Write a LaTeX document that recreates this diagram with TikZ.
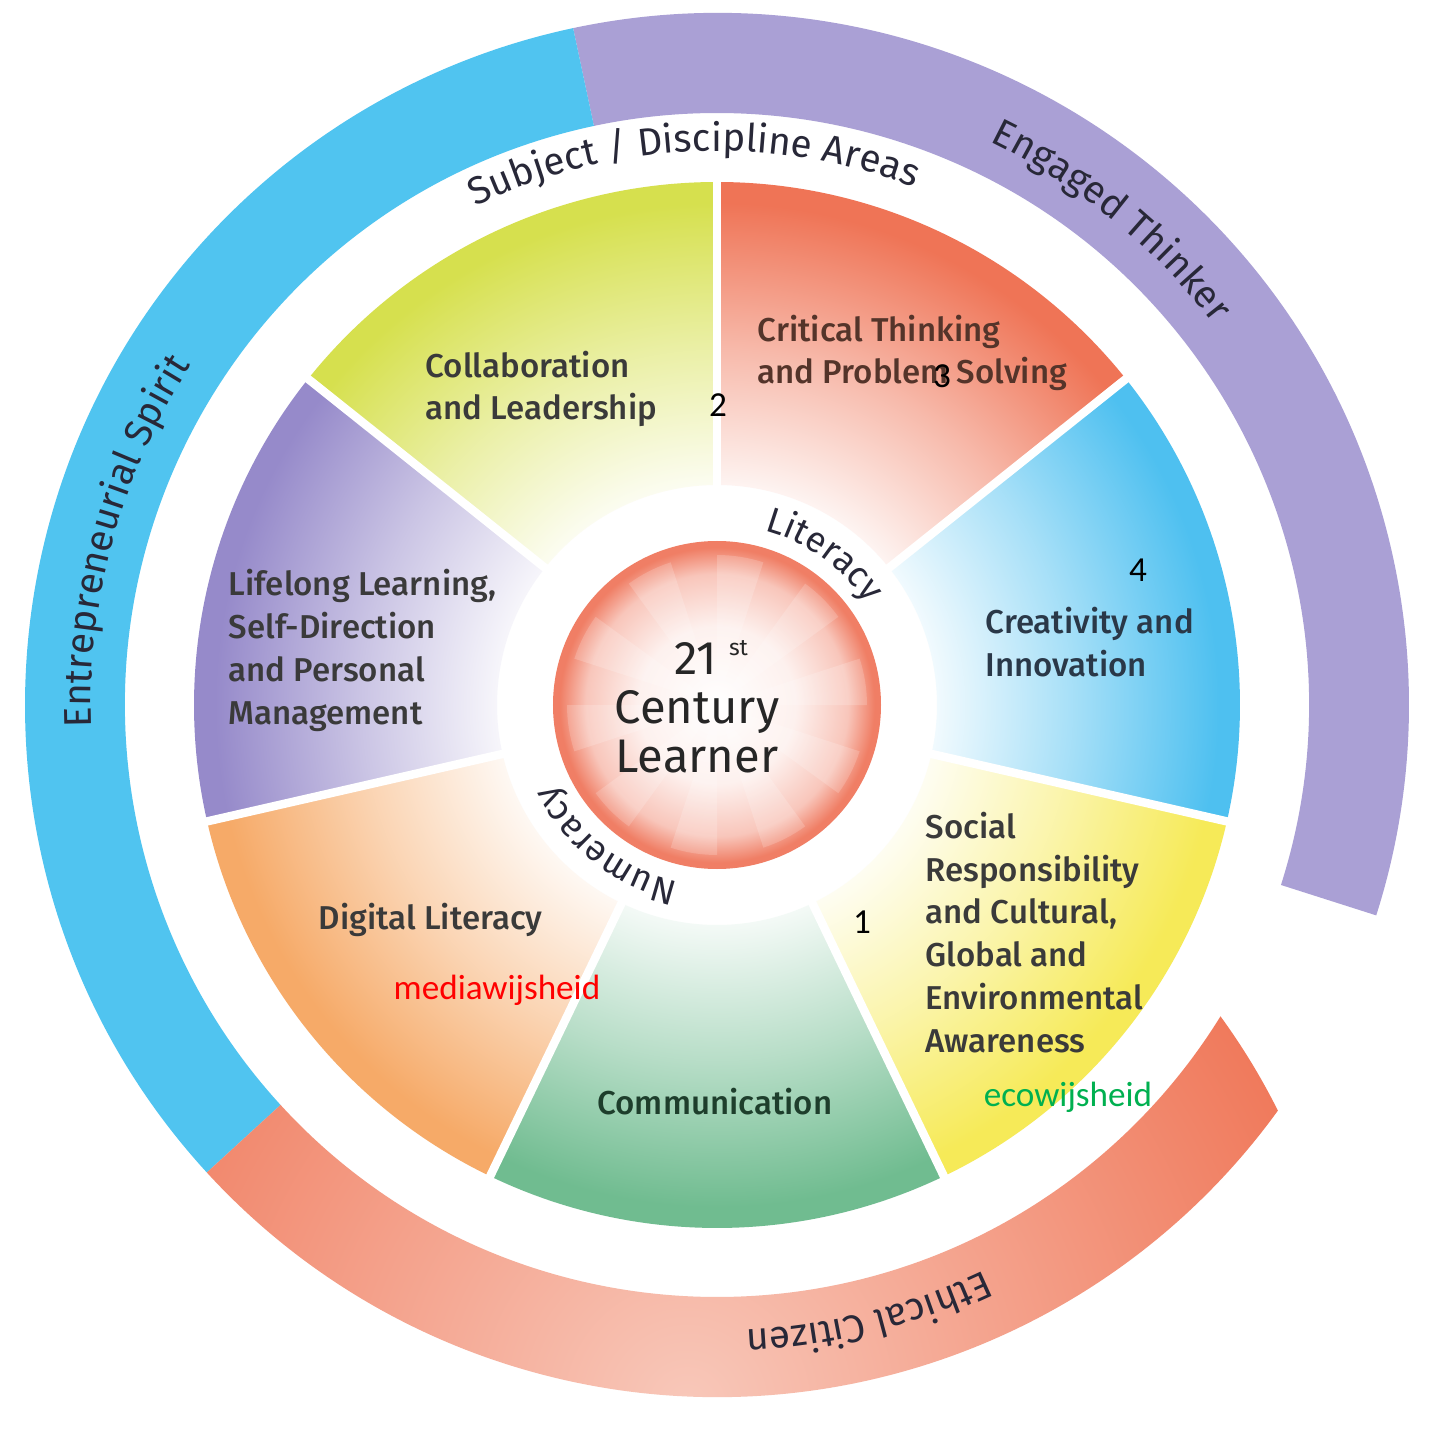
\documentclass[tikz,border=0pt]{standalone}
\usepackage{fontspec}
\setmainfont{Fira Sans}
\newfontfamily\wedgefont{Fira Sans Medium}
\newfontfamily\notefont{Carlito}
\usetikzlibrary{decorations.text}

\definecolor{ringblue}{RGB}{80,196,240}
\definecolor{ringpurple}{RGB}{170,160,213}
\definecolor{ringred}{RGB}{240,122,92}
\definecolor{ringpink}{RGB}{248,200,186}
\definecolor{collabcol}{RGB}{214,224,78}
\definecolor{criticalcol}{RGB}{239,116,86}
\definecolor{creativecol}{RGB}{78,192,240}
\definecolor{socialcol}{RGB}{246,234,88}
\definecolor{commcol}{RGB}{112,188,144}
\definecolor{digitalcol}{RGB}{246,170,104}
\definecolor{lifelongcol}{RGB}{150,138,202}
\definecolor{learnerred}{RGB}{238,112,84}
\definecolor{textgray}{RGB}{58,58,58}
\definecolor{curvegray}{RGB}{40,40,56}
\definecolor{ecogreen}{RGB}{0,176,80}

% radius R of the shaded circle is 25bp
\colorlet{wedgecol}{collabcol}
\pgfdeclareradialshading[wedgecol]{wedgeshade}{\pgfpoint{0bp}{0bp}}{%
  color(0bp)=(white); color(10.5bp)=(wedgecol!8!white);
  color(17bp)=(wedgecol!50!white); color(24bp)=(wedgecol); color(50bp)=(wedgecol)}
\pgfdeclareradialshading{learnershade}{\pgfpoint{0bp}{0bp}}{%
  color(0bp)=(white); color(12bp)=(learnerred!10!white);
  color(20bp)=(learnerred!40!white); color(24bp)=(learnerred!90!white); color(50bp)=(learnerred)}

\newcommand{\ringfont}{\color{curvegray}\fontsize{11}{13}\selectfont}
\newcommand{\innerfont}{\color{curvegray}\fontsize{10.2}{12}\selectfont}

\tikzset{
  wedgetext/.style={font=\wedgefont\fontsize{9.4}{12.2}\selectfont, text=textgray, align=left, anchor=west, inner sep=0pt},
  notetext/.style={font=\notefont\fontsize{10}{12}\selectfont, inner sep=0pt},
  ringlabel/.style={decorate, decoration={text along path, text align=center}},
}

\begin{document}
\begin{tikzpicture}
\useasboundingbox (-7.17,-7.27) rectangle (7.14,7.05);
\fill[white] (-7.17,-7.27) rectangle (7.14,7.05);

% outer ring
\fill[ringpurple] (102:6.92) arc[start angle=102, end angle=-17.7, radius=6.92]
  -- (-17.7:5.92) arc[start angle=-17.7, end angle=102, radius=5.92] -- cycle;
\fill[ringblue] (222.5:6.92) arc[start angle=222.5, end angle=102, radius=6.92]
  -- (102:5.92) arc[start angle=102, end angle=222.5, radius=5.92] -- cycle;
\begin{scope}
  \clip (-17.7:6.92) arc[start angle=-17.7, end angle=-137.5, radius=6.92]
    -- (-137.5:5.92) arc[start angle=-137.5, end angle=-17.7, radius=5.92] -- cycle;
  \shade[inner color=ringpink, outer color=ringred] (-0.3,-7.0) circle (6.6);
\end{scope}

% seven wedges
\foreach \a/\c in {90/collabcol, 141.43/lifelongcol, 192.86/digitalcol, 244.29/commcol,
                   295.71/socialcol, 347.14/creativecol, 38.57/criticalcol}{
  \pgfmathsetmacro{\b}{\a+51.43}
  \begin{scope}
    \clip (\a:2.2) -- (\a:5.23) arc[start angle=\a, end angle=\b, radius=5.23]
      -- (\b:2.2) arc[start angle=\b, end angle=\a, radius=2.2] -- cycle;
    \colorlet{wedgecol}{\c}
    \shade[shading=wedgeshade] (0,0) circle (5.23);
  \end{scope}
}
\foreach \a in {90, 141.43, 192.86, 244.29, 295.71, 347.14, 38.57}
  \draw[white, line width=2.4pt] (\a:2.0) -- (\a:5.4);

% centre
\shade[shading=learnershade] (0,0) circle (1.64);
\foreach \a in {0,36,...,324}
  \fill[white, opacity=0.18] (0,0) -- (\a:1.5) arc[start angle=\a, end angle=\a+18, radius=1.5] -- cycle;
\node[font=\fontsize{13.4}{14}\selectfont, text=black!85, align=center, inner sep=0pt] (learner) at (-0.2,-0.02)
  {\hspace*{0.28cm}21~\raisebox{0.75ex}{\fontsize{6.5}{7}\selectfont st}\\Century\\Learner};

% curved labels
\path[ringlabel, decoration={text={|\ringfont|Subject / Discipline Areas}}]
  (132.5:5.54) arc[start angle=132.5, end angle=52.5, radius=5.54];
\path[ringlabel, decoration={text={|\ringfont|Engaged Thinker}}]
  (80.85:6.26) arc[start angle=80.85, end angle=20.85, radius=6.26];
\path[ringlabel, decoration={text={|\ringfont|Entrepreneurial Spirit}}]
  (194.6:6.26) arc[start angle=194.6, end angle=134.6, radius=6.26];
\path[ringlabel, decoration={text={|\ringfont|Ethical Citizen}}]
  (-46:6.26) arc[start angle=-46, end angle=-106, radius=6.26];
\path[ringlabel, decoration={text={|\innerfont|Literacy}}]
  (84.5:1.81) arc[start angle=84.5, end angle=24.5, radius=1.81];
\path[ringlabel, decoration={text={|\innerfont|Numeracy}}]
  (-98.3:1.81) arc[start angle=-98.3, end angle=-158.3, radius=1.81];

% wedge labels
\node[wedgetext] (collab) at (-2.92,3.16) {Collaboration\\and Leadership};
\node[wedgetext, text={rgb,255:red,84;green,52;blue,42}] (critical) at (0.40,3.52) {Critical Thinking\\and Problem Solving};
\node[wedgetext, text={rgb,255:red,42;green,56;blue,72}] (creative) at (2.68,0.63) {Creativity and\\Innovation};
\node[wedgetext] (social) at (2.08,-2.275) {Social\\Responsibility\\and Cultural,\\Global and\\Environmental\\Awareness};
\node[wedgetext, anchor=center, text={rgb,255:red,30;green,62;blue,44}] (comm) at (-0.02,-3.97) {Communication};
\node[wedgetext] (digital) at (-3.99,-2.15) {Digital Literacy};
\node[wedgetext] (lifelong) at (-4.89,0.545) {Lifelong Learning,\\Self-Direction\\and Personal\\Management};

% added notes
\node[notetext] (n2) at (0.01,3.00) {2};
\node[notetext] (n3) at (2.25,3.29) {3};
\node[notetext] (n4) at (4.21,1.35) {4};
\node[notetext] (n1) at (1.45,-2.17) {1};
\node[notetext, text=red] (media) at (-2.20,-2.85) {mediawijsheid};
\node[notetext, text=ecogreen] (eco) at (3.51,-3.92) {ecowijsheid};
\end{tikzpicture}
\end{document}
